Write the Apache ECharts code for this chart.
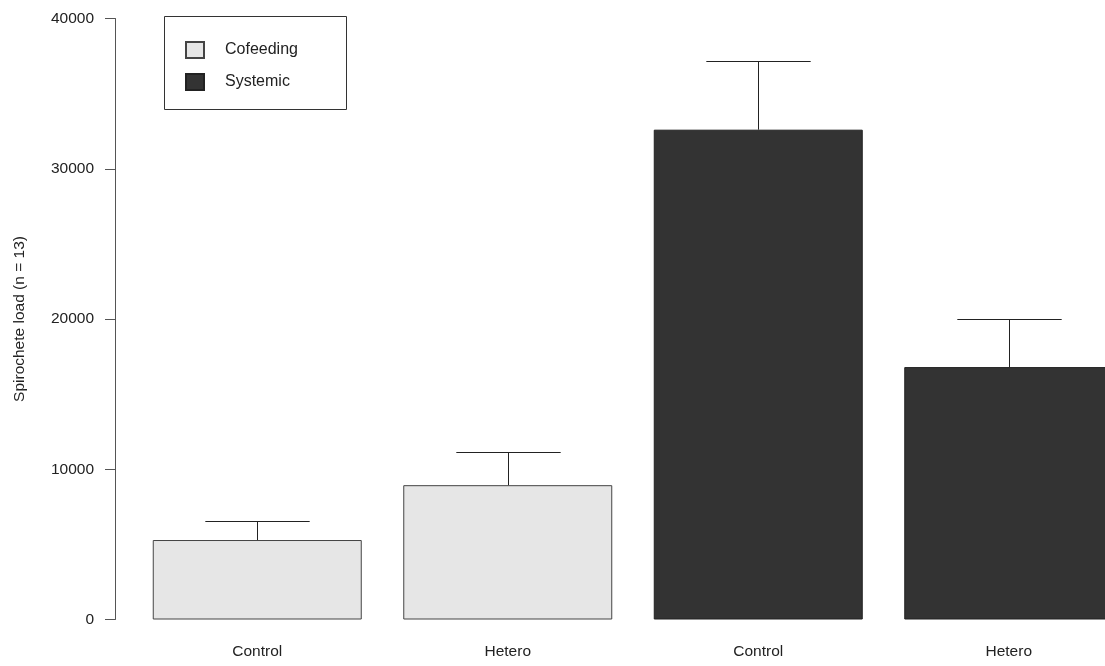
<!DOCTYPE html>
<html>
<head>
<meta charset="utf-8">
<script src="https://cdn.jsdelivr.net/npm/echarts@6/dist/echarts.min.js"></script>
<style>
  html, body { margin: 0; padding: 0; background: #fff; }
  #chart { width: 1105px; height: 666px; }
</style>
</head>
<body>
<div id="chart"></div>
<script>
// Spirochete load by treatment, grouped by transmission route
const groups = ['Cofeeding', 'Systemic'];
const categories = ['Control', 'Hetero', 'Control', 'Hetero'];
const cofeedingMean = [5290, 8940];
const cofeedingUpper = [6550, 11160];
const systemicMean = [32600, 16800];
const systemicUpper = [37200, 20000];
const yTicks = [0, 10000, 20000, 30000, 40000];

const groupColors = ['#e6e6e6', '#333333'];
const font = "'Liberation Sans', Arial, sans-serif";

const cofeedingBars = cofeedingMean.concat(['-', '-']);
const systemicBars = ['-', '-'].concat(systemicMean);
const means = cofeedingMean.concat(systemicMean);
const uppers = cofeedingUpper.concat(systemicUpper);
const errorData = means.map((m, i) => [i, m, uppers[i]]);

const chart = echarts.init(document.getElementById('chart'), null, { renderer: 'canvas' });

chart.setOption({
  animation: false,
  backgroundColor: '#ffffff',
  textStyle: { fontFamily: font },
  grid: {
    left: 132, width: 1002, top: 18.5, bottom: 46.5,
    containLabel: false, outerBoundsMode: 'none'
  },
  legend: {
    data: groups,
    orient: 'vertical',
    left: 185,
    top: 41,
    padding: 0,
    itemWidth: 18,
    itemHeight: 16,
    itemGap: 14,
    icon: 'rect',
    selectedMode: false,
    textStyle: { fontFamily: font, fontSize: 16, color: '#222', padding: [0, 0, 0, 16], lineHeight: 16 }
  },
  graphic: [{
    type: 'rect',
    shape: { x: 164.5, y: 16.5, width: 182, height: 93 },
    style: { fill: 'none', stroke: '#333', lineWidth: 1 },
    silent: true
  }],
  xAxis: {
    type: 'category',
    data: categories,
    axisLine: { show: false },
    axisTick: { show: false },
    axisLabel: { fontFamily: font, fontSize: 15.5, color: '#222', margin: 24 }
  },
  yAxis: {
    type: 'value',
    min: yTicks[0],
    max: yTicks[yTicks.length - 1],
    interval: 10000,
    offset: 17,
    name: 'Spirochete load (n = 13)',
    nameLocation: 'middle',
    nameRotate: 90,
    nameGap: 87,
    nameTextStyle: { fontFamily: font, fontSize: 15.5, color: '#222' },
    axisLine: { show: true, lineStyle: { color: '#555', width: 1 } },
    axisTick: { show: true, length: 10, lineStyle: { color: '#555', width: 1 } },
    axisLabel: {
      fontFamily: font, fontSize: 15.5, color: '#222', margin: 21,
      formatter: function (v) { return String(v); }
    },
    splitLine: { show: false }
  },
  series: [
    {
      name: groups[0],
      type: 'bar',
      stack: 'load',
      barWidth: 209,
      data: cofeedingBars,
      itemStyle: { color: groupColors[0], borderColor: '#444', borderWidth: 1 }
    },
    {
      name: groups[1],
      type: 'bar',
      stack: 'load',
      barWidth: 209,
      data: systemicBars,
      itemStyle: { color: groupColors[1], borderColor: '#222', borderWidth: 1 }
    },
    {
      name: 'error',
      type: 'custom',
      z: 5,
      data: errorData,
      encode: { x: 0, y: [1, 2] },
      renderItem: function (params, api) {
        const x = api.value(0);
        const base = api.coord([x, api.value(1)]);
        const top = api.coord([x, api.value(2)]);
        const bandWidth = api.size([1, 0])[0];
        const half = bandWidth / 1.2 / 4;
        const cx = Math.round(base[0]) + 0.5;
        const ty = Math.round(top[1]) + 0.5;
        const style = { stroke: '#222', lineWidth: 1, fill: null };
        return {
          type: 'group',
          children: [
            { type: 'line', shape: { x1: cx, y1: base[1], x2: cx, y2: ty }, style: style },
            { type: 'line', shape: { x1: cx - half, y1: ty, x2: cx + half, y2: ty }, style: style }
          ]
        };
      }
    }
  ]
});
</script>
</body>
</html>
